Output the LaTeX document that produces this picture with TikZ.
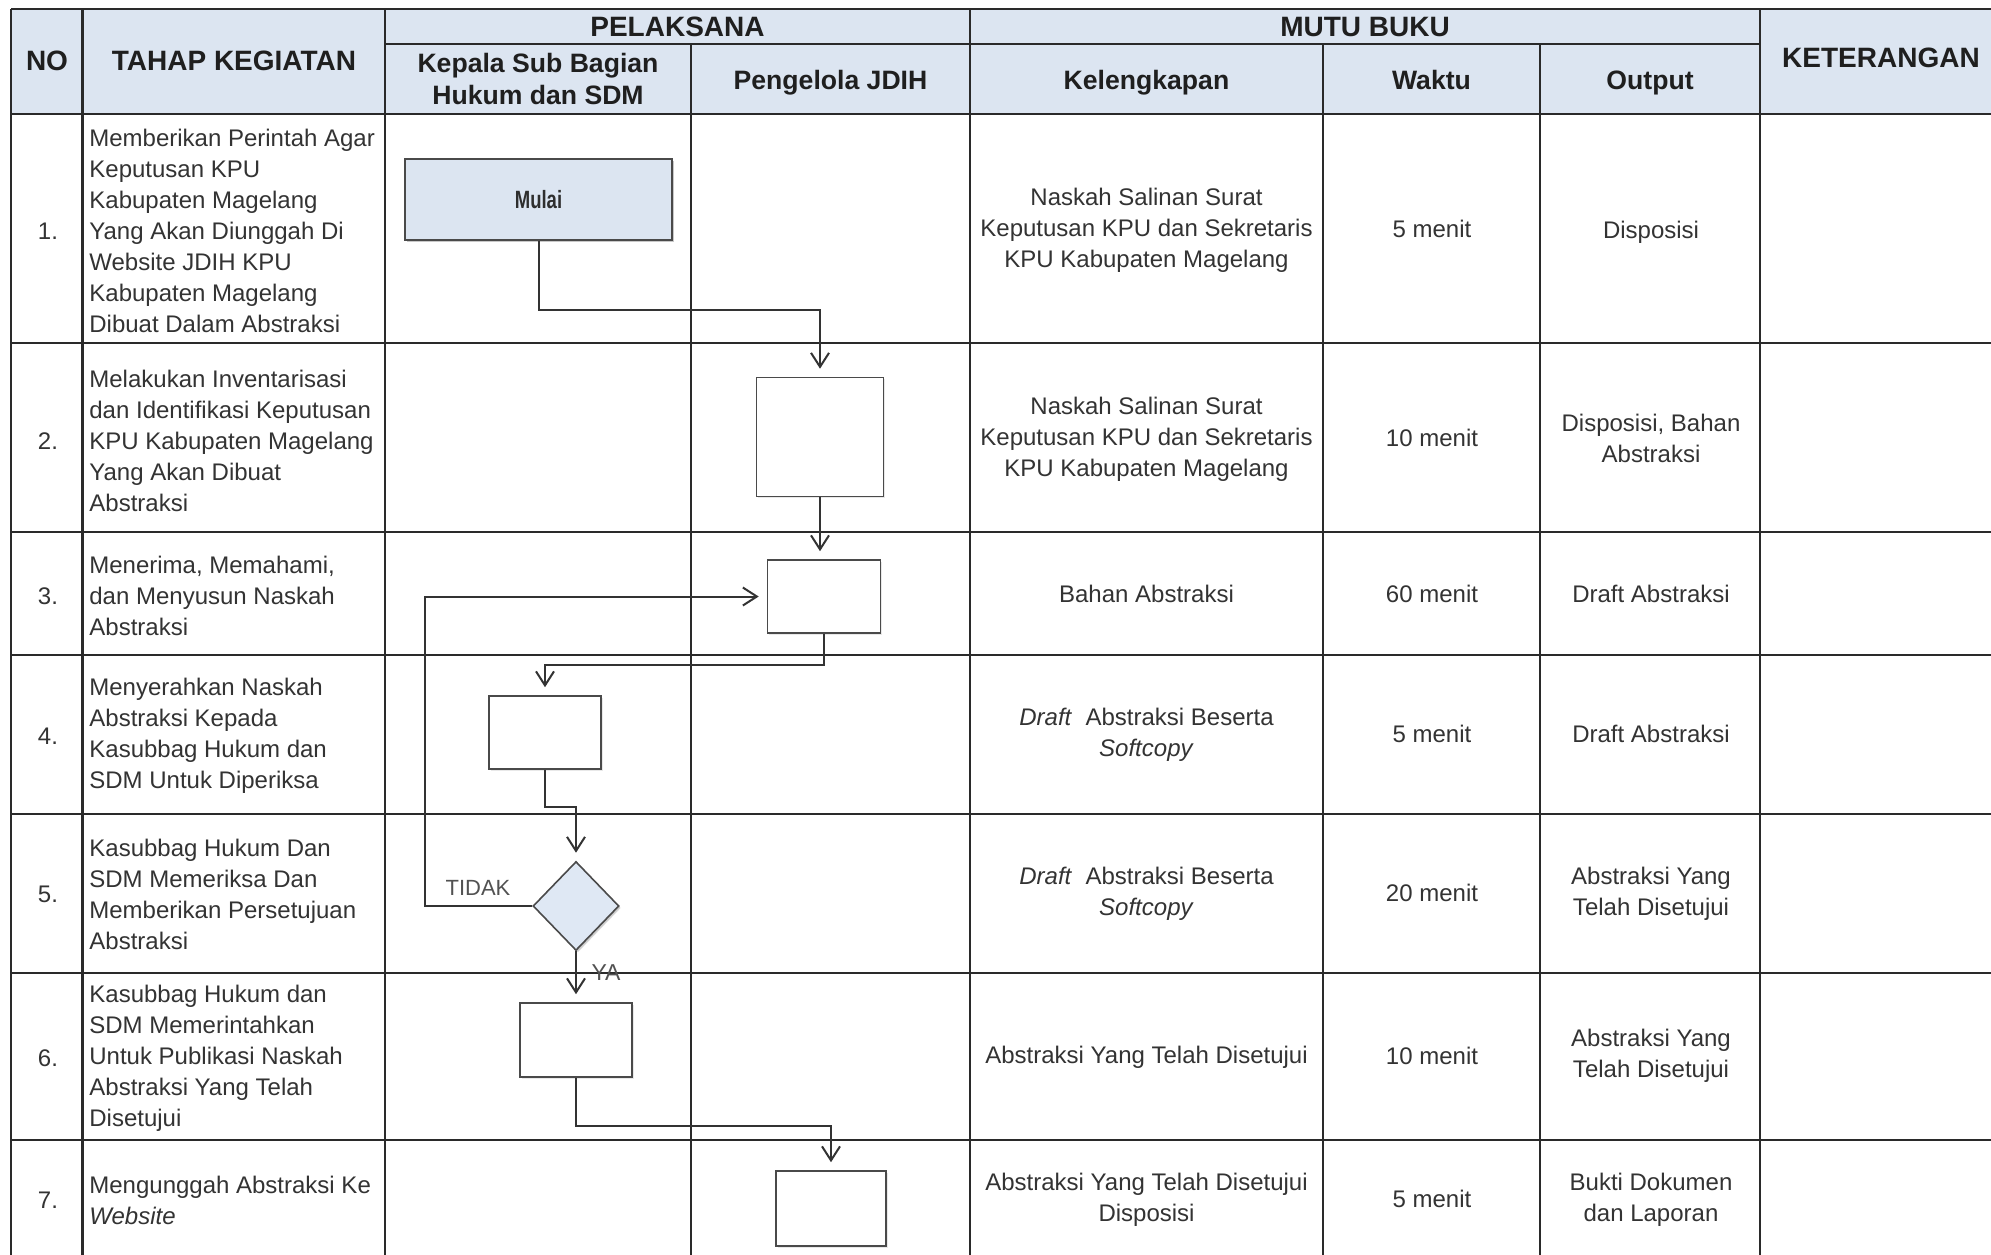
\documentclass[tikz,border=0pt]{standalone}
\usepackage{fontspec}
\setmainfont{Liberation Sans}
\newfontfamily\narrowbold[FakeStretch=0.74]{Liberation Sans Bold}
\usetikzlibrary{arrows.meta,shapes.geometric,shadows}
\definecolor{hdr}{HTML}{DCE5F1}
\definecolor{dfill}{HTML}{DFE8F4}
\definecolor{ink}{HTML}{333333}
\definecolor{gridc}{HTML}{2A2A2A}
\definecolor{boxc}{HTML}{4A4A4A}
\tikzset{
  gridline/.style={draw=gridc, line width=1.1pt},
  hdrtext/.style={text=black!88, font=\fontsize{14}{16}\selectfont\bfseries, inner sep=0pt},
  subtext/.style={text=black!88, font=\fontsize{13.3}{15.75}\selectfont\bfseries, align=center, inner sep=0pt},
  lefttext/.style={text=ink, font=\fontsize{12}{15.5}\selectfont, align=left, anchor=west, inner sep=0pt},
  numtext/.style={text=ink, font=\fontsize{12}{15.5}\selectfont, inner sep=0pt},
  celltext/.style={text=ink, font=\fontsize{12}{15.5}\selectfont, align=center, inner sep=0pt},
  procbox/.style={draw=boxc, line width=0.8pt, fill=white, inner sep=0pt,
     drop shadow={shadow xshift=0.8pt, shadow yshift=-0.8pt, opacity=0.18}},
  arr/.style={draw=ink, line width=1pt, -{Straight Barb[length=7pt,width=9pt,line width=1pt]}, shorten >=4pt},
  flowlabel/.style={text=black!68, font=\fontsize{11}{13}\selectfont, inner sep=0pt}
}
\begin{document}
\begin{tikzpicture}[x=0.5pt,y=-0.5pt]
\useasboundingbox (0,0) rectangle (1991,1254);
\clip (0,0) rectangle (1991,1254);
\fill[white] (0,0) rectangle (1991,1254);
% header fill
\fill[hdr] (11,9) rectangle (2010,114);
% horizontal grid lines
\draw[gridline] (11,9) -- (2010,9);
\draw[gridline] (385,44) -- (1760,44);
\draw[gridline] (11,114) -- (2010,114);
\foreach \yy in {343,532,655,814,973,1140}{
  \draw[gridline] (11,\yy) -- (2010,\yy);
}
% vertical grid lines
\foreach \xx in {11,82.5,385,970,1760}{
  \draw[gridline] (\xx,9) -- (\xx,1260);
}
\foreach \xx in {691,1323,1540}{
  \draw[gridline] (\xx,44) -- (\xx,1260);
}
% header texts
\node[hdrtext] (hNo) at (47,61) {NO};
\node[hdrtext] (hTahap) at (234,61) {TAHAP KEGIATAN};
\node[hdrtext] (hPel) at (677.5,26.5) {PELAKSANA};
\node[hdrtext] (hMutu) at (1365,26.5) {MUTU BUKU};
\node[hdrtext] (hKet) at (1881,58) {KETERANGAN};
\node[subtext] (hKasub) at (538,79) {Kepala Sub Bagian\\Hukum dan SDM};
\node[subtext, anchor=base] (hPeng) at (830.5,89) {Pengelola JDIH};
\node[subtext, anchor=base] (hKel) at (1146.5,89) {Kelengkapan};
\node[subtext, anchor=base] (hWak) at (1431.5,89) {Waktu};
\node[subtext, anchor=base] (hOut) at (1650,89) {Output};
% row numbers
\node[numtext] (n1) at (48,231) {1.};
\node[numtext] (n2) at (48,441) {2.};
\node[numtext] (n3) at (48,596) {3.};
\node[numtext] (n4) at (48,736) {4.};
\node[numtext] (n5) at (48,894) {5.};
\node[numtext] (n6) at (48,1058) {6.};
\node[numtext] (n7) at (48,1200) {7.};
% activity texts
\node[lefttext] (t1) at (89,231) {Memberikan Perintah Agar\\Keputusan KPU\\Kabupaten Magelang\\Yang Akan Diunggah Di\\Website JDIH KPU\\Kabupaten Magelang\\Dibuat Dalam Abstraksi};
\node[lefttext] (t2) at (89,441) {Melakukan Inventarisasi\\dan Identifikasi Keputusan\\KPU Kabupaten Magelang\\Yang Akan Dibuat\\Abstraksi};
\node[lefttext] (t3) at (89,596) {Menerima, Memahami,\\dan Menyusun Naskah\\Abstraksi};
\node[lefttext] (t4) at (89,736) {Menyerahkan Naskah\\Abstraksi Kepada\\Kasubbag Hukum dan\\SDM Untuk Diperiksa};
\node[lefttext] (t5) at (89,894) {Kasubbag Hukum Dan\\SDM Memeriksa Dan\\Memberikan Persetujuan\\Abstraksi};
\node[lefttext] (t6) at (89,1058) {Kasubbag Hukum dan\\SDM Memerintahkan\\Untuk Publikasi Naskah\\Abstraksi Yang Telah\\Disetujui};
\node[lefttext] (t7) at (89,1200) {Mengunggah Abstraksi Ke\\\textit{Website}};
% kelengkapan
\node[celltext] (k1) at (1146.5,230) {Naskah Salinan Surat\\Keputusan KPU dan Sekretaris\\KPU Kabupaten Magelang};
\node[celltext] (k2) at (1146.5,439) {Naskah Salinan Surat\\Keputusan KPU dan Sekretaris\\KPU Kabupaten Magelang};
\node[celltext] (k3) at (1146.5,594) {Bahan Abstraksi};
\node[celltext] (k4) at (1146.5,735) {\textit{Draft}\ \ Abstraksi Beserta\\\textit{Softcopy}};
\node[celltext] (k5) at (1146.5,894) {\textit{Draft}\ \ Abstraksi Beserta\\\textit{Softcopy}};
\node[celltext] (k6) at (1146.5,1057) {Abstraksi Yang Telah Disetujui};
\node[celltext] (k7) at (1146.5,1200) {Abstraksi Yang Telah Disetujui\\Disposisi};
% waktu
\node[celltext] (w1) at (1432,229) {5 menit};
\node[celltext] (w2) at (1432,438) {10 menit};
\node[celltext] (w3) at (1432,594) {60 menit};
\node[celltext] (w4) at (1432,734) {5 menit};
\node[celltext] (w5) at (1432,893) {20 menit};
\node[celltext] (w6) at (1432,1056) {10 menit};
\node[celltext] (w7) at (1432,1199) {5 menit};
% output
\node[celltext] (o1) at (1651,232) {Disposisi};
\node[celltext] (o2) at (1651,438) {Disposisi, Bahan\\Abstraksi};
\node[celltext] (o3) at (1651,594) {Draft Abstraksi};
\node[celltext] (o4) at (1651,734) {Draft Abstraksi};
\node[celltext] (o5) at (1651,894) {Abstraksi Yang\\Telah Disetujui};
\node[celltext] (o6) at (1651,1056) {Abstraksi Yang\\Telah Disetujui};
\node[celltext] (o7) at (1651,1200) {Bukti Dokumen\\dan Laporan};
% flow shapes
\node[procbox, fill=hdr, minimum width=133.5pt, minimum height=40.5pt,
      drop shadow={shadow xshift=1.2pt, shadow yshift=-1.2pt, opacity=0.3},
      font=\narrowbold\fontsize{12.5}{14}\selectfont, text=black!82] (mulai) at (538.5,199.5) {Mulai};
\node[procbox, minimum width=63.5pt, minimum height=59.5pt] (b2) at (820,437) {};
\node[procbox, minimum width=56.5pt, minimum height=36.5pt] (b3) at (824,596.5) {};
\node[procbox, minimum width=56pt, minimum height=36.5pt] (b4) at (545,732.5) {};
\node[procbox, diamond, fill=dfill, minimum width=43pt, minimum height=44.5pt,
      drop shadow={shadow xshift=1pt, shadow yshift=-1pt, opacity=0.25}] (dec) at (576,906) {};
\node[procbox, minimum width=56pt, minimum height=37pt] (b6) at (576,1040) {};
\node[procbox, minimum width=55pt, minimum height=37.5pt] (b7) at (831,1208.5) {};
% connectors
\draw[arr] (mulai.south) -- ++(0,69) -| (b2.north);
\draw[arr] (b2.south) -- (b2.south |- b3.north);
\draw[arr] (b3.south) -- ++(0,31) -| (b4.north);
\draw[arr] (b4.south) -- ++(0,37) -| (dec.north);
\draw[arr] (dec.west) -- ++(-107,0) |- (b3.west);
\draw[arr] (dec.south) -- (b6.north);
\draw[arr] (b6.south) -- ++(0,48) -| (b7.north);
% flow labels
\node[flowlabel] (lTidak) at (478,888) {TIDAK};
\node[flowlabel, font=\fontsize{11.5}{13}\selectfont] (lYa) at (606,973) {YA};
\end{tikzpicture}
\end{document}
